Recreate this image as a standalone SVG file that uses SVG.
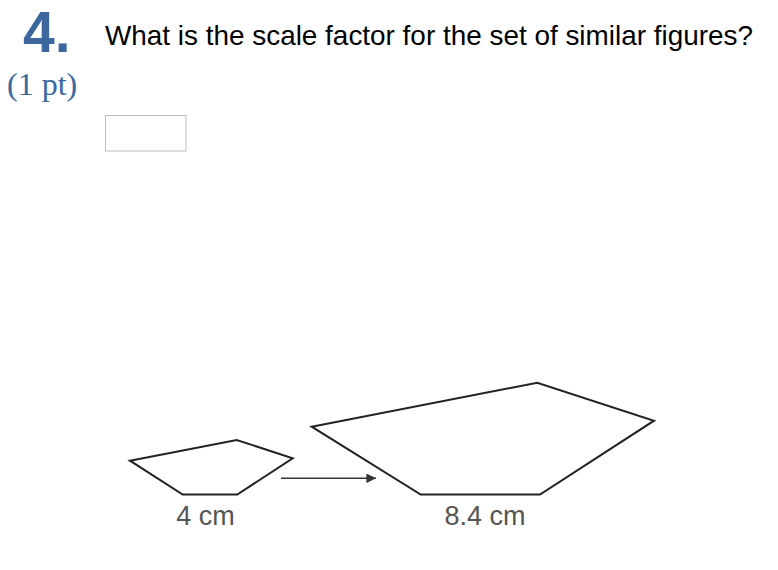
<svg xmlns="http://www.w3.org/2000/svg" width="778" height="570" viewBox="0 0 778 570">
  <style>
    .shape { fill: none; stroke: #222; stroke-width: 2; stroke-linejoin: miter; }
    .dim { font-family: "Liberation Sans", Arial, sans-serif; font-size: 27px; fill: #555; text-anchor: middle; }
    .conn { stroke: #333; stroke-width: 1.6; fill: none; }
  </style>
  <defs>
    <marker id="arrowhead" viewBox="0 0 10 10" refX="10" refY="5" markerWidth="7" markerHeight="6" markerUnits="strokeWidth" orient="auto">
      <path d="M0,0 L10,5 L0,10 Z" fill="#333"/>
    </marker>
  </defs>
  <rect width="778" height="570" fill="#fff"/>

  <g id="header">
    <text x="23" y="51.5" font-family="Liberation Sans, Arial, sans-serif" font-weight="bold" font-size="57" fill="#3b679e">4.</text>
    <text x="7" y="94.5" font-family="Liberation Serif, 'Times New Roman', serif" font-size="32" fill="#3868a0">(1 pt)</text>
    <text x="105" y="45" font-family="Liberation Sans, Arial, sans-serif" font-size="27.9" fill="#000">What is the scale factor for the set of similar figures?</text>
    <rect id="answer-box" x="105.5" y="115.5" width="80.5" height="35.5" fill="#fff" stroke="#bbb" stroke-width="1"/>
  </g>

  <g id="small-pentagon">
    <polygon class="shape" points="130,460.7 236.7,440 292.7,458.3 237.3,494.5 182.7,494.5"/>
    <text class="dim" x="205.5" y="525">4 cm</text>
  </g>

  <g id="large-pentagon">
    <polygon class="shape" points="311.7,426.7 537.3,382.7 654,420.7 540,494.5 420.7,494.5"/>
    <text class="dim" x="485" y="525">8.4 cm</text>
  </g>

  <g id="connectors">
    <line class="conn" x1="281" y1="478.3" x2="376" y2="478.3" marker-end="url(#arrowhead)"/>
  </g>
</svg>
